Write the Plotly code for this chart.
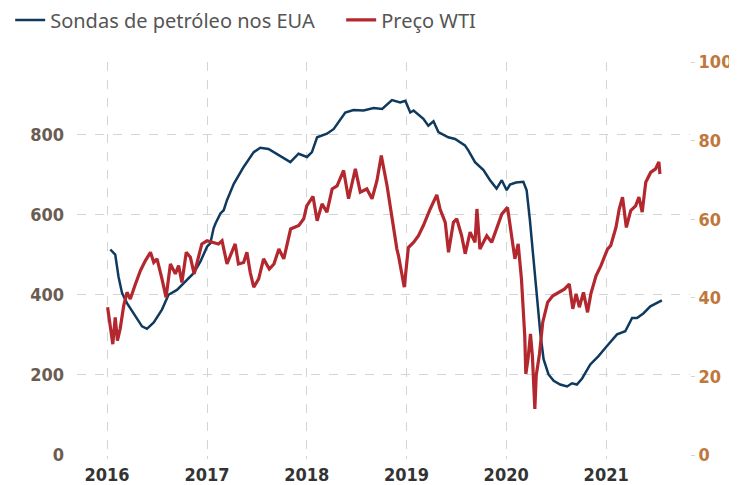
import plotly.graph_objects as go

# Sondas de petróleo nos EUA (left axis)
rig_dates = ["2016-01-13", "2016-01-31", "2016-02-12", "2016-02-25", "2016-03-14", "2016-04-07",
             "2016-05-08", "2016-05-26", "2016-06-20", "2016-07-20", "2016-08-13", "2016-09-13",
             "2016-10-20", "2016-11-13", "2016-12-08", "2017-01-01", "2017-01-13", "2017-01-25",
             "2017-02-01", "2017-02-19", "2017-03-03", "2017-03-15", "2017-04-09", "2017-05-15",
             "2017-06-21", "2017-07-15", "2017-08-14", "2017-09-20", "2017-11-02", "2017-12-02",
             "2018-01-02", "2018-01-20", "2018-02-08", "2018-03-16", "2018-04-10", "2018-05-22",
             "2018-06-21", "2018-07-28", "2018-09-03", "2018-10-04", "2018-11-09", "2018-12-09",
             "2018-12-28", "2019-01-15", "2019-01-27", "2019-03-04", "2019-03-22", "2019-04-10",
             "2019-04-28", "2019-06-03", "2019-06-28", "2019-08-03", "2019-08-16", "2019-09-09",
             "2019-10-10", "2019-11-03", "2019-11-27", "2019-12-16", "2020-01-03", "2020-01-15",
             "2020-02-06", "2020-03-04", "2020-03-16", "2020-03-28", "2020-04-10", "2020-04-22",
             "2020-05-05", "2020-05-17", "2020-06-04", "2020-06-23", "2020-07-17", "2020-08-11",
             "2020-08-29", "2020-09-16", "2020-10-05", "2020-11-04", "2020-12-04", "2021-01-04",
             "2021-02-10", "2021-03-12", "2021-04-06", "2021-04-24", "2021-05-18", "2021-06-12",
             "2021-07-06", "2021-07-24"]
rig_values = [513, 500, 445, 404, 379, 354,
              321, 315, 331, 363, 400, 412,
              437, 454, 483, 520, 528, 566,
              578, 603, 611, 636, 677, 719,
              756, 767, 764, 748, 731, 752,
              744, 756, 793, 802, 814, 855,
              861, 860, 866, 864, 886, 880,
              884, 855, 860, 839, 822, 833,
              806, 793, 789, 773, 760, 731,
              711, 686, 665, 686, 661, 675,
              680, 682, 661, 586, 487, 396,
              305, 239, 201, 185, 176, 171,
              179, 176, 191, 226, 247, 272,
              301, 309, 342, 342, 354, 371,
              379, 386]

# Preço WTI (right axis)
wti_dates = ["2016-01-03", "2016-01-13", "2016-01-22", "2016-01-31", "2016-02-08", "2016-02-18",
             "2016-03-02", "2016-03-14", "2016-03-26", "2016-04-14", "2016-05-02", "2016-05-20",
             "2016-06-08", "2016-06-20", "2016-07-02", "2016-07-20", "2016-08-04", "2016-08-20",
             "2016-09-07", "2016-09-19", "2016-10-01", "2016-10-17", "2016-11-01", "2016-11-15",
             "2016-12-01", "2016-12-13", "2017-01-01", "2017-01-25", "2017-02-12", "2017-02-25",
             "2017-03-15", "2017-04-14", "2017-04-26", "2017-05-15", "2017-05-27", "2017-06-08",
             "2017-06-21", "2017-07-09", "2017-07-27", "2017-08-17", "2017-09-03", "2017-09-21",
             "2017-10-09", "2017-11-03", "2017-12-03", "2017-12-21", "2018-01-01", "2018-01-24",
             "2018-02-08", "2018-02-26", "2018-03-16", "2018-04-04", "2018-04-22", "2018-05-16",
             "2018-06-03", "2018-06-28", "2018-07-16", "2018-08-09", "2018-08-28", "2018-09-15",
             "2018-10-01", "2018-10-22", "2018-11-09", "2018-11-27", "2018-12-03", "2018-12-24",
             "2019-01-08", "2019-01-27", "2019-02-14", "2019-03-04", "2019-03-29", "2019-04-10",
             "2019-04-22", "2019-05-04", "2019-05-23", "2019-06-04", "2019-06-22", "2019-07-04",
             "2019-07-22", "2019-08-04", "2019-08-22", "2019-09-09", "2019-09-16", "2019-09-27",
             "2019-10-22", "2019-11-09", "2019-11-27", "2019-12-16", "2020-01-06", "2020-01-15",
             "2020-01-27", "2020-02-02", "2020-02-14", "2020-02-26", "2020-03-09", "2020-03-13",
             "2020-03-21", "2020-03-30", "2020-04-06", "2020-04-15", "2020-04-20", "2020-05-02",
             "2020-05-14", "2020-06-01", "2020-06-20", "2020-07-14", "2020-08-01", "2020-08-19",
             "2020-09-01", "2020-09-13", "2020-09-25", "2020-10-10", "2020-10-25", "2020-11-06",
             "2020-11-25", "2020-12-13", "2021-01-06", "2021-01-18", "2021-02-06", "2021-02-18",
             "2021-03-02", "2021-03-16", "2021-04-01", "2021-04-19", "2021-05-01", "2021-05-13",
             "2021-05-26", "2021-06-13", "2021-07-01", "2021-07-13", "2021-07-17"]
wti_values = [37.6, 32.9, 28.2, 35.0, 29.1, 32.1,
              38.0, 41.4, 39.7, 43.5, 46.9, 49.4,
              51.6, 49.0, 49.9, 44.8, 40.1, 48.6,
              46.1, 48.2, 43.9, 51.6, 50.3, 46.1,
              50.7, 53.7, 54.5, 54.1, 53.7, 54.5,
              48.6, 53.7, 48.6, 49.0, 51.6, 46.5,
              42.7, 44.8, 49.9, 47.3, 48.6, 52.4,
              49.9, 57.5, 58.4, 60.1, 63.4, 65.8,
              59.6, 63.9, 61.8, 67.7, 68.5, 72.4,
              65.2, 72.8, 66.9, 67.7, 65.2, 69.8,
              76.2, 68.5, 60.1, 52.4, 50.7, 42.7,
              52.8, 54.1, 55.8, 58.4, 62.6, 64.3,
              66.2, 62.6, 59.2, 51.6, 59.2, 60.1,
              55.8, 51.2, 56.7, 54.1, 62.6, 52.4,
              55.8, 54.1, 57.9, 61.3, 63.0, 58.4,
              53.3, 49.9, 53.7, 44.8, 30.4, 20.6,
              24.4, 30.8, 25.3, 11.7, 20.2, 25.7,
              33.8, 38.9, 40.5, 41.4, 42.2, 43.5,
              37.2, 41.0, 37.6, 41.4, 36.3, 41.0,
              45.6, 48.2, 52.4, 53.3, 57.9, 62.6,
              65.6, 57.9, 62.2, 63.4, 65.6, 61.8,
              69.4, 71.9, 72.8, 74.6, 71.5]

year_ticks = ["2016-01-01", "2017-01-01", "2018-01-01", "2019-01-01", "2020-01-01", "2021-01-01"]
year_labels = ["2016", "2017", "2018", "2019", "2020", "2021"]

BLUE = "#0f3a5e"
RED = "#b3282e"
TICKFONT = "DejaVu Sans Condensed, Liberation Sans Narrow, sans-serif"
GRID = "#d4d4d4"

fig = go.Figure()
fig.add_trace(go.Scatter(x=rig_dates, y=rig_values, name="Sondas de petróleo nos EUA",
                         mode="lines", line=dict(color=BLUE, width=2.5), yaxis="y"))
fig.add_trace(go.Scatter(x=wti_dates, y=wti_values, name="Preço WTI",
                         mode="lines", line=dict(color=RED, width=3.2), yaxis="y2"))

fig.update_layout(
    width=729, height=477,
    margin=dict(l=69, r=47, t=54, b=30, autoexpand=False),
    plot_bgcolor="white", paper_bgcolor="white",
    showlegend=True,
    legend=dict(orientation="h", x=-0.109, y=1.107,
                xanchor="left", yanchor="middle",
                font=dict(family="Noto Sans, sans-serif", size=20, color="#555555"),
                itemwidth=30, entrywidth=286, entrywidthmode="pixels",
                bgcolor="rgba(0,0,0,0)", tracegroupgap=0),
    xaxis=dict(type="date", range=["2015-09-13", "2021-11-04"],
               tickvals=year_ticks, ticktext=year_labels, automargin=False,
               showgrid=True, gridcolor=GRID, griddash="dash", gridwidth=1.2,
               ticks="outside", ticklen=3, tickcolor=GRID,
               showline=False, zeroline=False,
               tickfont=dict(family=TICKFONT, size=18, color="#333333", weight="bold")),
    yaxis=dict(range=[0, 981], tickvals=[0, 200, 400, 600, 800], automargin=False,
               showgrid=True, gridcolor=GRID, griddash="dash", gridwidth=1.2,
               zeroline=False, showline=False, ticks="", ticklabelstandoff=12,
               tickfont=dict(family=TICKFONT, size=18, color="#6b5c52", weight="bold")),
    yaxis2=dict(range=[0, 100], tickvals=[0, 20, 40, 60, 80, 100], overlaying="y", side="right",
                showgrid=False, zeroline=False, showline=False, automargin=False,
                ticks="outside", ticklen=4, tickcolor=GRID,
                tickfont=dict(family=TICKFONT, size=18, color="#c0773c", weight="bold")),
)

fig.write_html("out.html")
